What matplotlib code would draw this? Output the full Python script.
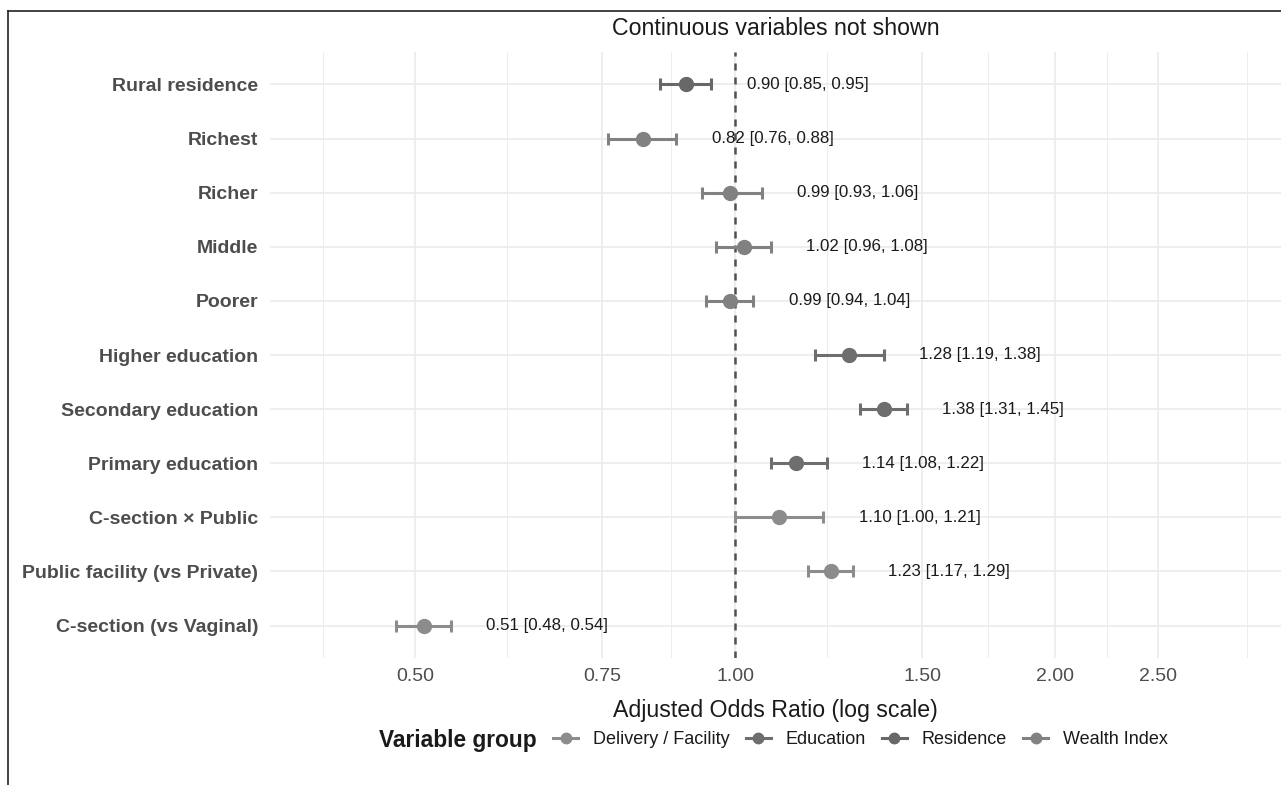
import numpy as np
import matplotlib
matplotlib.use("Agg")
import matplotlib.pyplot as plt
from matplotlib.lines import Line2D
from matplotlib.ticker import FixedLocator, NullFormatter

plt.rcParams['font.family'] = ['Liberation Sans', 'DejaVu Sans']

# data (top row first)
labels = ["Rural residence", "Richest", "Richer", "Middle", "Poorer",
          "Higher education", "Secondary education", "Primary education",
          "C-section \u00d7 Public", "Public facility (vs Private)", "C-section (vs Vaginal)"]
odds = [0.90, 0.82, 0.99, 1.02, 0.99, 1.28, 1.38, 1.14, 1.10, 1.23, 0.51]
lower = [0.85, 0.76, 0.93, 0.96, 0.94, 1.19, 1.31, 1.08, 1.00, 1.17, 0.48]
upper = [0.95, 0.88, 1.06, 1.08, 1.04, 1.38, 1.45, 1.22, 1.21, 1.29, 0.54]
groups = ["Residence", "Wealth Index", "Wealth Index", "Wealth Index", "Wealth Index",
          "Education", "Education", "Education",
          "Delivery / Facility", "Delivery / Facility", "Delivery / Facility"]

group_order = ["Delivery / Facility", "Education", "Residence", "Wealth Index"]
group_colors = {"Delivery / Facility": "#8c8c8c", "Education": "#6e6e6e",
                "Residence": "#686868", "Wealth Index": "#818181"}

major_breaks = [0.50, 0.75, 1.00, 1.50, 2.00, 2.50]
minor_breaks = [0.41, 0.61, 0.87, 1.22, 1.73, 2.24, 3.03]

W, H = 1281, 785
fig = plt.figure(figsize=(W / 100, H / 100), dpi=100)
ax = fig.add_axes([270 / W, 1 - 658 / H, (W - 270) / W, (658 - 52) / H])

ax.set_xscale('log')
ax.set_xlim(0.3652, 3.263)
n = len(labels)
ypos = np.arange(n)[::-1]
ax.set_ylim(-0.6, n - 1 + 0.6)

for sp in ax.spines.values():
    sp.set_visible(False)

ax.xaxis.set_major_locator(FixedLocator(major_breaks))
ax.set_xticklabels([f"{b:.2f}" for b in major_breaks])
ax.xaxis.set_minor_locator(FixedLocator(minor_breaks))
ax.xaxis.set_minor_formatter(NullFormatter())
ax.set_yticks(ypos)
ax.set_yticklabels(labels, fontweight='bold', fontsize=14, color='#4d4d4d')
ax.tick_params(which='both', length=0)
ax.tick_params(axis='x', labelsize=14, labelcolor='#4d4d4d', pad=7)
ax.tick_params(axis='y', pad=8.6)

ax.set_axisbelow(True)
ax.grid(which='major', axis='both', color='#ebebeb', lw=1.2)
ax.grid(which='minor', axis='x', color='#ededed', lw=0.7)

ax.axvline(1.0, color='#505050', lw=1.8, ls=(0, (2.8, 2.8)), zorder=1.5)

for i in range(n):
    c = group_colors[groups[i]]
    ax.errorbar(odds[i], ypos[i],
                xerr=[[odds[i] - lower[i]], [upper[i] - odds[i]]],
                fmt='o', color=c, ms=10, elinewidth=2.2, capsize=4, capthick=2.2,
                zorder=3)
    ax.text(upper[i] * 1.08, ypos[i], f"{odds[i]:.2f} [{lower[i]:.2f}, {upper[i]:.2f}]",
            fontsize=12.2, va='center', ha='left', color='#1a1a1a', zorder=4)

ax.set_xlabel("Adjusted Odds Ratio (log scale)", fontsize=16.7, color='#1a1a1a', labelpad=10)
ax.set_title("Continuous variables not shown", fontsize=16.7, color='#1a1a1a', pad=12)

# legend
fig.text(379 / W, 1 - 740 / H, "Variable group", fontsize=16.4, fontweight='bold',
         va='center', ha='left', color='#1a1a1a')
handles = [Line2D([], [], color=group_colors[g], marker='o', ms=7.5, lw=2.2) for g in group_order]
fig.legend(handles, group_order, loc='center left', bbox_to_anchor=(553 / W, 1 - 740 / H),
           ncol=4, frameon=False, fontsize=13, handlelength=1.4, handletextpad=0.8,
           columnspacing=0.9, borderpad=0, borderaxespad=0, labelcolor='#1a1a1a')

# frame lines of the cropped figure
fig.add_artist(Line2D([8 / W, 8 / W], [0, 1 - 11 / H], transform=fig.transFigure,
                      color='#222222', lw=1.2))
fig.add_artist(Line2D([8 / W, 1], [1 - 11 / H, 1 - 11 / H], transform=fig.transFigure,
                      color='#222222', lw=1.2))

fig.savefig("out.png", dpi=100)
